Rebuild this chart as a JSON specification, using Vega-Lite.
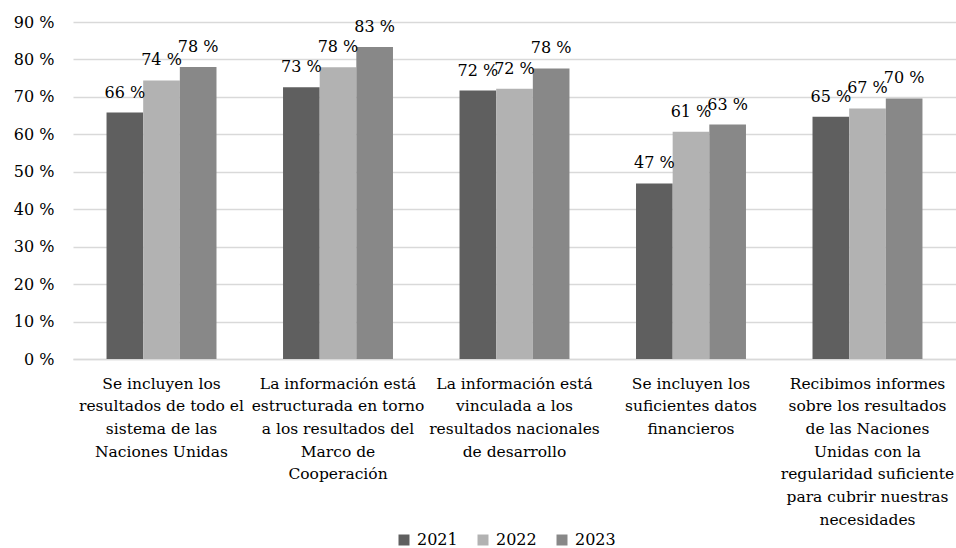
{
  "$schema": "https://vega.github.io/schema/vega-lite/v6.json",
  "autosize": {"type": "none"},
  "padding": {"left": 73, "top": 22, "right": 0, "bottom": 189},
  "width": 883,
  "height": 337,
  "background": "white",
  "config": {
    "view": {"stroke": null},
    "font": "DejaVu Serif",
    "text": {"font": "DejaVu Serif"}
  },
  "data": {
    "values": [
      {"category": "Se incluyen los\nresultados de todo el\nsistema de las\nNaciones Unidas", "year": "2021", "value": 65.8},
      {"category": "Se incluyen los\nresultados de todo el\nsistema de las\nNaciones Unidas", "year": "2022", "value": 74.4},
      {"category": "Se incluyen los\nresultados de todo el\nsistema de las\nNaciones Unidas", "year": "2023", "value": 78.0},
      {"category": "La información está\nestructurada en torno\na los resultados del\nMarco de\nCooperación", "year": "2021", "value": 72.6},
      {"category": "La información está\nestructurada en torno\na los resultados del\nMarco de\nCooperación", "year": "2022", "value": 77.9},
      {"category": "La información está\nestructurada en torno\na los resultados del\nMarco de\nCooperación", "year": "2023", "value": 83.3},
      {"category": "La información está\nvinculada a los\nresultados nacionales\nde desarrollo", "year": "2021", "value": 71.7},
      {"category": "La información está\nvinculada a los\nresultados nacionales\nde desarrollo", "year": "2022", "value": 72.2},
      {"category": "La información está\nvinculada a los\nresultados nacionales\nde desarrollo", "year": "2023", "value": 77.6},
      {"category": "Se incluyen los\nsuficientes datos\nfinancieros", "year": "2021", "value": 46.9},
      {"category": "Se incluyen los\nsuficientes datos\nfinancieros", "year": "2022", "value": 60.7},
      {"category": "Se incluyen los\nsuficientes datos\nfinancieros", "year": "2023", "value": 62.6},
      {"category": "Recibimos informes\nsobre los resultados\nde las Naciones\nUnidas con la\nregularidad suficiente\npara cubrir nuestras\nnecesidades", "year": "2021", "value": 64.7},
      {"category": "Recibimos informes\nsobre los resultados\nde las Naciones\nUnidas con la\nregularidad suficiente\npara cubrir nuestras\nnecesidades", "year": "2022", "value": 66.9},
      {"category": "Recibimos informes\nsobre los resultados\nde las Naciones\nUnidas con la\nregularidad suficiente\npara cubrir nuestras\nnecesidades", "year": "2023", "value": 69.6}
    ]
  },
  "transform": [
    {"calculate": "format(datum.value, '.0f') + ' %'", "as": "label"}
  ],
  "encoding": {
    "x": {
      "field": "category",
      "type": "nominal",
      "sort": null,
      "scale": {"paddingInner": 0.377, "paddingOuter": 0.19},
      "axis": {
        "title": null,
        "labelAngle": 0,
        "labelExpr": "split(datum.label, '\\n')",
        "labelLineHeight": 22.7,
        "labelFont": "DejaVu Serif",
        "labelFontSize": 15.5,
        "labelColor": "#000000",
        "labelPadding": 17,
        "labelLimit": 0,
        "labelOverlap": false,
        "ticks": false,
        "domainColor": "#d9d9d9",
        "domainWidth": 1.5
      }
    },
    "xOffset": {"field": "year", "type": "nominal"},
    "y": {
      "field": "value",
      "type": "quantitative",
      "scale": {"domain": [0, 90], "nice": false},
      "axis": {
        "title": null,
        "values": [0, 10, 20, 30, 40, 50, 60, 70, 80, 90],
        "labelExpr": "datum.value + ' %'",
        "labelFont": "DejaVu Serif",
        "labelFontSize": 16,
        "labelColor": "#000000",
        "labelPadding": 19,
        "ticks": false,
        "domain": false,
        "grid": true,
        "gridColor": "#d9d9d9",
        "gridWidth": 1.5
      }
    }
  },
  "layer": [
    {
      "mark": {"type": "bar"},
      "encoding": {
        "color": {
          "field": "year",
          "type": "nominal",
          "scale": {"domain": ["2021", "2022", "2023"], "range": ["#5f5f5f", "#b2b2b2", "#888888"]},
          "legend": {
            "title": null,
            "orient": "none",
            "direction": "horizontal",
            "legendX": 323,
            "legendY": 510,
            "padding": 0,
            "symbolType": "square",
            "symbolSize": 121,
            "symbolStrokeWidth": 0,
            "labelFont": "DejaVu Serif",
            "labelFontSize": 16,
            "labelColor": "#000000",
            "labelOffset": 5,
            "columnPadding": 17
          }
        }
      }
    },
    {
      "mark": {"type": "text", "dy": -15, "baseline": "alphabetic", "fontSize": 16, "color": "#000000", "font": "DejaVu Serif"},
      "encoding": {"text": {"field": "label"}}
    }
  ]
}
